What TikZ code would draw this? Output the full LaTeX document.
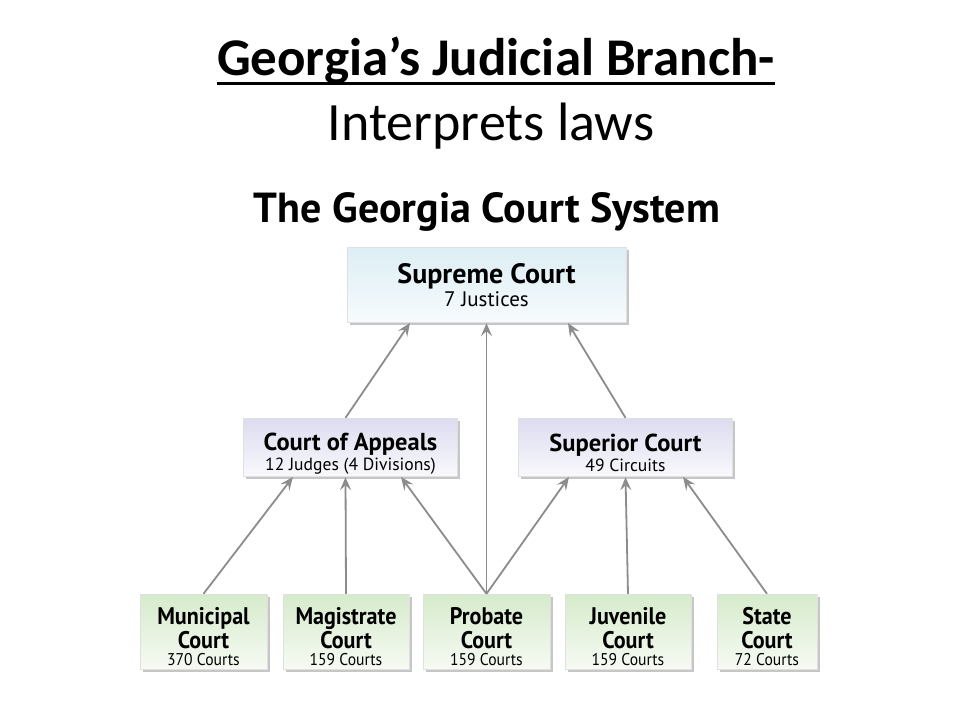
\documentclass[tikz,border=0pt]{standalone}
\usepackage{fontspec}
\setmainfont{Carlito}
\newfontfamily\chartfont{PT Sans}
\newfontfamily\narrowfont[FakeStretch=0.92]{PT Sans}
\usetikzlibrary{arrows.meta,shadows}

\definecolor{arrowgray}{HTML}{8C8C8C}
\definecolor{supremetop}{HTML}{DCEEF4}
\definecolor{supremebot}{HTML}{F7FBFD}
\definecolor{midtop}{HTML}{DCDCF0}
\definecolor{midbot}{HTML}{F8F8FC}
\definecolor{lowtop}{HTML}{D6EBCB}
\definecolor{lowbot}{HTML}{F6FAF3}

\newcommand{\courtname}{\fontsize{24}{24}\selectfont\bfseries}
\newcommand{\lift}[1]{\rule{0pt}{#1}}

\begin{document}
\begin{tikzpicture}[x=1pt, y=-1pt,
		court/.style={draw=black!12, align=center, inner sep=0pt,
			drop shadow={shadow xshift=2.5pt, shadow yshift=-3pt, opacity=0.45}},
		supreme/.style={court, top color=supremetop, bottom color=supremebot,
			minimum width=279pt, minimum height=75pt,
			font=\chartfont\fontsize{21}{23}\selectfont},
		middle/.style={court, top color=midtop, bottom color=midbot,
			minimum width=214pt, minimum height=58pt,
			font=\chartfont\fontsize{17.6}{20}\selectfont},
		lower/.style={court, top color=lowtop, bottom color=lowbot, minimum height=75pt,
			font=\narrowfont\fontsize{17}{24}\selectfont},
		appeal/.style={draw=arrowgray, line width=1.8pt,
			-{Stealth[length=13pt, width=11pt, inset=5pt]}, shorten >=1pt}]
		\useasboundingbox (0,0) rectangle (960,720);

		\node[anchor=base, inner sep=0pt] (heading) at (496,75)
			{\fontsize{53}{60}\selectfont\bfseries Georgia’s Judicial Branch-};
		\draw[line width=3pt] ([yshift=-8pt]heading.base west) -- ([yshift=-8pt]heading.base east);
		\node[anchor=base] (role) at (491,140) {\fontsize{54}{60}\selectfont Interprets laws};

		\node[anchor=base] (system) at (487,222)
			{\fontsize{42}{48}\selectfont\chartfont\bfseries The Georgia Court System};

		\node[supreme] (sup) at (486.5,284.5)
			{\fontsize{28}{23}\selectfont\bfseries\lift{22pt}Supreme Court\\ 7 Justices};

		\node[middle] (coa) at (350.5,447)
			{\fontsize{24.5}{20}\selectfont\bfseries\lift{30pt}Court of Appeals\\ 12 Judges (4 Divisions)};
		\node[middle] (superior) at (625.5,447)
			{\fontsize{24.5}{20}\selectfont\bfseries\lift{30pt}Superior Court\\ 49 Circuits};

		\node[lower, minimum width=127pt] (municipal) at (203.5,631.5)
			{\courtname\lift{28pt}Municipal\\ \courtname Court\\[-7pt] 370 Courts};
		\node[lower, minimum width=126pt] (magistrate) at (346,631.5)
			{\courtname\lift{28pt}Magistrate\\ \courtname Court\\[-7pt] 159 Courts};
		\node[lower, minimum width=127pt] (probate) at (486.5,631.5)
			{\courtname\lift{28pt}Probate\\ \courtname Court\\[-7pt] 159 Courts};
		\node[lower, minimum width=126pt] (juvenile) at (628,631.5)
			{\courtname\lift{28pt}Juvenile\\ \courtname Court\\[-7pt] 159 Courts};
		\node[lower, minimum width=100pt] (state) at (767,631.5)
			{\courtname\lift{28pt}State\\ \courtname Court\\[-7pt] 72 Courts};

		% appeals to the Supreme Court
		\draw[appeal] ([xshift=-5pt]coa.north) -- ([xshift=-76pt]sup.south);
		\draw[appeal] (probate.north) -- (sup.south);
		\draw[appeal] (superior.north) -- ([xshift=81pt]sup.south);

		% trial courts upward
		\draw[appeal] (municipal.north) -- ([xshift=-57pt]coa.south);
		\draw[appeal] (magistrate.north) -- ([xshift=-5pt]coa.south);
		\draw[appeal] (probate.north) -- ([xshift=50pt]coa.south);
		\draw[appeal] (probate.north) -- ([xshift=-56pt]superior.south);
		\draw[appeal] (juvenile.north) -- ([xshift=0pt]superior.south);
		\draw[appeal] (state.north) -- ([xshift=57pt]superior.south);

	\end{tikzpicture}
\end{document}
